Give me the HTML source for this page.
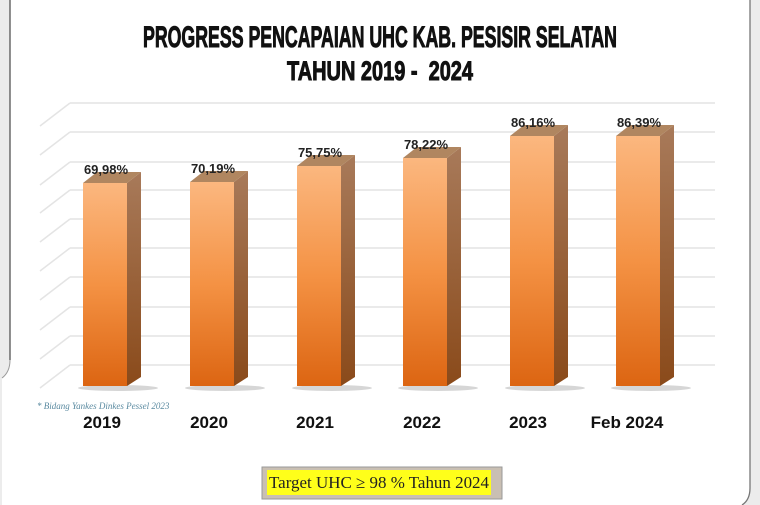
<!DOCTYPE html>
<html><head><meta charset="utf-8"><style>
html,body{margin:0;padding:0;background:#ececec;}
svg{display:block;}
</style></head><body>
<svg width="760" height="505" viewBox="0 0 760 505" xmlns="http://www.w3.org/2000/svg">
<defs>
<linearGradient id="front" x1="0" y1="0" x2="0" y2="1">
<stop offset="0" stop-color="#fbb77f"/><stop offset="0.5" stop-color="#f49244"/><stop offset="1" stop-color="#dc6512"/>
</linearGradient>
<linearGradient id="side" x1="0" y1="0" x2="0" y2="1">
<stop offset="0" stop-color="#a87a5a"/><stop offset="1" stop-color="#8a4a1a"/>
</linearGradient>
</defs>
<rect x="0" y="0" width="760" height="505" fill="#ececec"/>
<path d="M10,-2 L10,360 Q10,372 2,378 L2,505 L742,505 Q750,500 750,488 L750,-2 Z" fill="#ffffff"/>
<path d="M10,-2 L10,360" stroke="#555" stroke-width="1.3" fill="none"/>
<path d="M750,-2 L750,488 Q750,500 742,505" stroke="#777" stroke-width="1.3" fill="none"/>
<path d="M10,360 Q10,372 2,378" stroke="#999" stroke-width="1" fill="none"/>
<text x="143" y="47" font-family="Liberation Sans Narrow, Liberation Sans, sans-serif" font-weight="bold" font-size="30" textLength="474" lengthAdjust="spacingAndGlyphs" fill="#111" stroke="#111" stroke-width="1">PROGRESS PENCAPAIAN UHC KAB. PESISIR SELATAN</text>
<text x="287" y="80" font-family="Liberation Sans Narrow, Liberation Sans, sans-serif" font-weight="bold" font-size="27" textLength="186" lengthAdjust="spacingAndGlyphs" fill="#111" stroke="#111" stroke-width="1" xml:space="preserve">TAHUN 2019 -  2024</text>
<g stroke="#e4e4e4" stroke-width="1.5" fill="none">
<path d="M70,103H715M70,132H715M70,162H715M70,190H715M70,219H715M70,248H715M70,277H715M70,307H715M70,336H715M70,365H715"/>
<path d="M70,103L40,126M70,132L40,155M70,162L40,185M70,190L40,213M70,219L40,242M70,248L40,271M70,277L40,300M70,307L40,330M70,336L40,359M70,365L40,388"/>
</g>
<g font-family="Liberation Sans, sans-serif" font-weight="bold" font-size="13" fill="#222" text-anchor="middle">
<g>
<ellipse cx="118" cy="388" rx="40" ry="3" fill="#bbb" opacity="0.6"/>
<rect x="83" y="183" width="44" height="203" fill="url(#front)"/>
<polygon points="127,183 141,172 141,377 127,386" fill="url(#side)"/>
<polygon points="83,183 97,172 141,172 127,183" fill="#b08660"/>
<text x="106" y="174">69,98%</text>
</g>
<g>
<ellipse cx="225" cy="388" rx="40" ry="3" fill="#bbb" opacity="0.6"/>
<rect x="190" y="182" width="44" height="204" fill="url(#front)"/>
<polygon points="234,182 248,171 248,377 234,386" fill="url(#side)"/>
<polygon points="190,182 204,171 248,171 234,182" fill="#b08660"/>
<text x="213" y="173">70,19%</text>
</g>
<g>
<ellipse cx="332" cy="388" rx="40" ry="3" fill="#bbb" opacity="0.6"/>
<rect x="297" y="166" width="44" height="220" fill="url(#front)"/>
<polygon points="341,166 355,155 355,377 341,386" fill="url(#side)"/>
<polygon points="297,166 311,155 355,155 341,166" fill="#b08660"/>
<text x="320" y="157">75,75%</text>
</g>
<g>
<ellipse cx="438" cy="388" rx="40" ry="3" fill="#bbb" opacity="0.6"/>
<rect x="403" y="158" width="44" height="228" fill="url(#front)"/>
<polygon points="447,158 461,147 461,377 447,386" fill="url(#side)"/>
<polygon points="403,158 417,147 461,147 447,158" fill="#b08660"/>
<text x="426" y="149">78,22%</text>
</g>
<g>
<ellipse cx="545" cy="388" rx="40" ry="3" fill="#bbb" opacity="0.6"/>
<rect x="510" y="136" width="44" height="250" fill="url(#front)"/>
<polygon points="554,136 568,125 568,377 554,386" fill="url(#side)"/>
<polygon points="510,136 524,125 568,125 554,136" fill="#b08660"/>
<text x="533" y="127">86,16%</text>
</g>
<g>
<ellipse cx="651" cy="388" rx="40" ry="3" fill="#bbb" opacity="0.6"/>
<rect x="616" y="136" width="44" height="250" fill="url(#front)"/>
<polygon points="660,136 674,125 674,377 660,386" fill="url(#side)"/>
<polygon points="616,136 630,125 674,125 660,136" fill="#b08660"/>
<text x="639" y="127">86,39%</text>
</g>
</g>
<text x="37" y="409" font-family="Liberation Serif, serif" font-style="italic" font-size="9" fill="#5a8aa0">* Bidang Yankes Dinkes Pessel 2023</text>
<g font-family="Liberation Sans, sans-serif" font-weight="bold" font-size="17" fill="#111" text-anchor="middle">
<text x="102" y="428">2019</text>
<text x="209" y="428">2020</text>
<text x="315" y="428">2021</text>
<text x="422" y="428">2022</text>
<text x="528" y="428">2023</text>
<text x="627" y="428">Feb 2024</text>
</g>
<rect x="262" y="467" width="240" height="32" fill="#c9bfb3" stroke="#999" stroke-width="1"/>
<rect x="267" y="470" width="224" height="25" fill="#ffff1a"/>
<text x="269" y="488" font-family="Liberation Serif, serif" font-size="17" fill="#222" textLength="220" lengthAdjust="spacingAndGlyphs">Target UHC ≥ 98 % Tahun 2024</text>
</svg>
</body></html>
